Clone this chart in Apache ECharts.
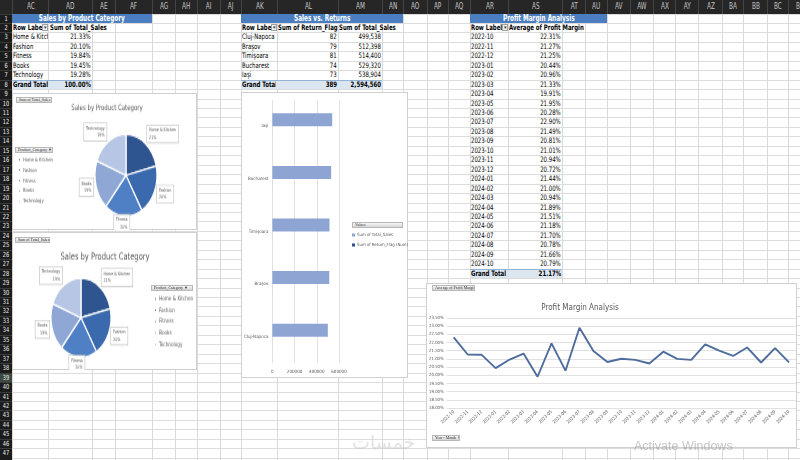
<!DOCTYPE html>
<html>
<head>
<meta charset="utf-8">
<script src="https://cdn.jsdelivr.net/npm/echarts@6/dist/echarts.min.js"></script>
<style>
  html, body { margin:0; padding:0; width:800px; height:460px; overflow:hidden; background:#fff; }
  #sheet { position:absolute; left:0; top:0; width:800px; height:460px; }
  .abs { position:absolute; box-sizing:border-box; }
  .cell { position:absolute; overflow:hidden; white-space:nowrap; box-sizing:border-box; color:#000; }
  .cell span { display:inline-block; }
  .box { position:absolute; background:#fff; border:1px solid #d0d0d0; box-sizing:border-box; }
  .btn { position:absolute; box-sizing:border-box; background:linear-gradient(#f6f6f6,#d4d4d4); border:1px solid #b8b8b8; font-size:4px; line-height:4px; color:#333; padding-left:2px; overflow:hidden; white-space:nowrap; }
  .chart { position:absolute; }
</style>
</head>
<body>
<div id="sheet"></div>
<script>
// ---------------- DATA ----------------
const categories = ['Home & Kitchen', 'Fashion', 'Fitness', 'Books', 'Technology'];
const categoryShare = [21.33, 20.10, 19.84, 19.45, 19.28];

const cities = ['Cluj-Napoca', 'Braşov', 'Timişoara', 'Bucharest', 'Iaşi'];
const returnFlags = [82, 79, 81, 74, 73];
const citySales = [499538, 512398, 514400, 529320, 538904];

const months = ['2022-10','2022-11','2022-12','2023-01','2023-02','2023-03','2023-04','2023-05','2023-06','2023-07','2023-08','2023-09','2023-10','2023-11','2023-12','2024-01','2024-02','2024-03','2024-04','2024-05','2024-06','2024-07','2024-08','2024-09','2024-10'];
const profitMargins = [22.31, 21.27, 21.25, 20.44, 20.96, 21.33, 19.91, 21.95, 20.28, 22.90, 21.49, 20.81, 21.01, 20.94, 20.72, 21.44, 21.00, 20.94, 21.89, 21.51, 21.18, 21.70, 20.78, 21.66, 20.79];
const profitGrandTotal = 21.17;

const colNames = ['AC','AD','AE','AF','AG','AH','AI','AJ','AK','AL','AM','AN','AO','AP','AQ','AR','AS','AT','AU','AV','AW','AX','AY','AZ','BA','BB','BC','BD'];
const rowCount = 47;

// ---------------- STYLE / LAYOUT ----------------
const NARROW = '"Liberation Sans Narrow","DejaVu Sans Condensed","Liberation Sans",sans-serif';
const colEdges = [12,48,92,115,152,175,197,220,241,277,338,382,403,427,448,470,508,562,585,607,630,653,675,698,722,743,767,788,812];
const ROW0 = 13.5, RH = 9.45;
const rowTop = r => ROW0 + (r - 1) * RH;
const sheet = document.getElementById('sheet');
const SX = 0.8; // horizontal condensing of sheet text

function el(cls, x, y, w, h, text, css, align) {
  const d = document.createElement('div');
  d.className = cls;
  d.style.left = x + 'px'; d.style.top = y + 'px';
  d.style.width = w + 'px'; d.style.height = h + 'px';
  if (css) Object.assign(d.style, css);
  if (text !== undefined && text !== null) {
    if (cls === 'cell') {
      const s = document.createElement('span');
      s.textContent = text;
      const a = align || 'left';
      s.style.transform = 'scaleX(' + SX + ')';
      s.style.transformOrigin = a === 'right' ? '100% 50%' : (a === 'center' ? '50% 50%' : '0 50%');
      d.appendChild(s);
    } else {
      d.textContent = text;
    }
  }
  sheet.appendChild(d);
  return d;
}

// grid lines
for (let i = 0; i < colEdges.length; i++) {
  el('abs', colEdges[i], 13, 1, 447, null, {background:'#d9d9d9', width:'1px'});
}
for (let r = 0; r <= rowCount; r++) {
  el('abs', 12, rowTop(r + 1), 788, 1, null, {background:'#dcdcdc', height:'1px'});
}
// column header
el('abs', 0, 0, 800, 13.5, null, {background:'#262626'});
for (let i = 0; i < colNames.length; i++) {
  const x0 = colEdges[i], x1 = colEdges[i + 1];
  el('cell', x0, 0, x1 - x0, 13.5, colNames[i], {color:'#c4c4c4', fontFamily:NARROW, fontSize:'8px', textAlign:'center', lineHeight:'13.5px', borderLeft:'1px solid #444'}, 'center');
}
// row header
el('abs', 0, 13.5, 12, 447, null, {background:'#1c1c1c'});
for (let r = 1; r <= rowCount; r++) {
  el('cell', 0, rowTop(r), 12, RH, String(r), {color:'#ececec', fontFamily:NARROW, fontSize:'7px', textAlign:'center', lineHeight:RH + 'px', borderTop:'1px solid #3a3a3a', background: r === 39 ? '#3d4a3f' : 'transparent'}, 'center');
}

// -------- pivot tables (text from the data arrays) --------
const FS = {fontFamily:NARROW, fontSize:'7.5px', lineHeight:RH + 'px'};
function tcell(x0, x1, r, text, align, bold, extra) {
  const css = Object.assign({}, FS, {textAlign:align || 'left', fontWeight: bold ? 'bold' : 'normal', paddingLeft:'1px', paddingRight:'1px'}, extra || {});
  return el('cell', x0, rowTop(r), x1 - x0, RH, text, css, align);
}
function titleBar(x0, x1, text) {
  el('cell', x0, rowTop(1), x1 - x0, RH, text, Object.assign({}, FS, {background:'#4a7ec0', color:'#fff', fontWeight:'bold', textAlign:'center', fontSize:'8px'}), 'center');
}
function dropBtn(x) {
  const d = el('abs', x, rowTop(2) + 1.5, 6, RH - 3, null, {background:'#f0f0f0', border:'1px solid #a0a0a0', fontSize:'5px', lineHeight:'5px', textAlign:'center', color:'#333', overflow:'hidden'});
  d.textContent = '▾';
}
const fmtPct = v => v.toFixed(2) + '%';
const fmtInt = v => v.toLocaleString('en-US');

// table 1
titleBar(12, 152, 'Sales by Product Category');
tcell(12, 42, 2, 'Row Labels', 'left', true);
dropBtn(42);
tcell(49, 152, 2, 'Sum of Total_Sales', 'left', true);
categories.forEach((c, i) => {
  tcell(12, 48, 3 + i, c, 'left', false);
  tcell(48, 92, 3 + i, fmtPct(categoryShare[i]), 'right', false);
});
const shareTotal = categoryShare.reduce((a, b) => a + b, 0);
el('abs', 12, rowTop(8), 80, RH, null, {background:'#dce6f1', borderTop:'1px solid #95b3d7'});
tcell(12, 52, 8, 'Grand Total', 'left', true);
tcell(48, 92, 8, fmtPct(shareTotal), 'right', true);

// table 2
titleBar(241, 403, 'Sales vs. Returns');
tcell(241, 271, 2, 'Row Labels', 'left', true);
dropBtn(271);
tcell(277, 338, 2, 'Sum of Return_Flag (Num)', 'left', true);
tcell(338, 403, 2, 'Sum of Total_Sales', 'left', true);
cities.forEach((c, i) => {
  tcell(241, 277, 3 + i, c, 'left', false);
  tcell(277, 338, 3 + i, String(returnFlags[i]), 'right', false);
  tcell(338, 382, 3 + i, fmtInt(citySales[i]), 'right', false);
});
el('abs', 241, rowTop(8), 141, RH, null, {background:'#dce6f1', borderTop:'1px solid #95b3d7'});
tcell(241, 276, 8, 'Grand Total', 'left', true);
tcell(277, 338, 8, String(returnFlags.reduce((a, b) => a + b, 0)), 'right', true);
tcell(338, 382, 8, fmtInt(citySales.reduce((a, b) => a + b, 0)), 'right', true);

// table 3
titleBar(470, 607, 'Profit Margin Analysis');
tcell(470, 502, 2, 'Row Labels', 'left', true);
dropBtn(502);
tcell(508, 607, 2, 'Average of Profit Margin', 'left', true);
months.forEach((m, i) => {
  tcell(470, 508, 3 + i, m, 'left', false);
  tcell(508, 562, 3 + i, fmtPct(profitMargins[i]), 'right', false);
});
const gtRow = 3 + months.length;
el('abs', 470, rowTop(gtRow), 92, RH, null, {background:'#dce6f1', borderTop:'1px solid #95b3d7'});
tcell(470, 506, gtRow, 'Grand Total', 'left', true);
tcell(508, 562, gtRow, fmtPct(profitGrandTotal), 'right', true);

// chart boxes
el('box', 12, 93, 185, 137);
el('box', 12, 232, 185, 138);
el('box', 241, 92, 167, 286);
el('box', 426, 283, 371, 165);

// chart containers
function chartDiv(x, y, w, h, sy) {
  const d = el('chart', x, y, w, h);
  if (sy) { d.style.transformOrigin = '0 0'; d.style.transform = 'scaleY(' + sy + ')'; }
  return d;
}

const pieColors = ['#2f5591', '#3a69ae', '#4f80c6', '#8ea7d5', '#b7c6e4'];
const GREY = '#595959';

// mid-angles of the slices (radians), used to place callout labels like Excel
const shareSum = categoryShare.reduce((a, b) => a + b, 0);
const midAngles = (() => { let acc = 0; return categoryShare.map(v => { const a0 = 90 - acc / shareSum * 360; acc += v; const a1 = 90 - acc / shareSum * 360; return (a0 + a1) / 2 * Math.PI / 180; }); })();

function pieOption(o) {
  return {
    animation: false,
    color: pieColors,
    title: {
      text: 'Sales by Product Category', left: o.tx, top: o.ty, textAlign: 'center',
      textStyle: {fontFamily: NARROW, fontSize: o.ts, fontWeight: 'normal', color: GREY}
    },
    legend: {
      orient: 'vertical', left: o.lx, top: o.ly, padding: 0, icon: 'rect', itemWidth: o.li, itemHeight: o.li,
      itemGap: o.lg, data: categories,
      textStyle: {fontFamily: NARROW, fontSize: o.lf, color: GREY, padding: [0, 0, 0, -3]}
    },
    series: [{
      type: 'pie', center: o.c, radius: o.r, startAngle: 90, clockwise: true,
      data: categories.map((c, i) => ({name: c, value: categoryShare[i]})),
      itemStyle: {borderColor: '#fff', borderWidth: 1.2},
      label: {
        show: true, position: 'outside',
        formatter: p => p.name + '\n' + Math.round(p.percent) + '%',
        fontFamily: NARROW, fontSize: o.pf, lineHeight: o.pf + 1.6, color: GREY,
        backgroundColor: '#fff', borderColor: '#bfbfbf', borderWidth: 0.6, padding: [1.2, 2]
      },
      labelLine: {show: false, length: 3, length2: 0},
      labelLayout: p => {
        const a = midAngles[p.dataIndex];
        const ux = Math.cos(a), uy = -Math.sin(a);
        const r = p.labelRect;
        const R = o.r + 2;
        const cx = o.c[0] + ux * R + Math.sign(ux) * Math.min(1, 2 * Math.abs(ux)) * r.width / 2;
        const cy = o.c[1] + uy * R + uy * r.height / 2 * (uy > 0 ? 0.5 : 1);
        return {dx: cx - (r.x + r.width / 2), dy: cy - (r.y + r.height / 2)};
      }
    }]
  };
}

const pie1 = echarts.init(chartDiv(12, 93, 185, 104, 137 / 104), null, {renderer: 'canvas'});
pie1.setOption(pieOption({tx: 90, ty: 3, ts: 6, lx: 5, ly: 48.2, li: 3, lg: 2.9, lf: 4.1, c: [114, 62.5], r: 31, pf: 3.7}));

const pie2 = echarts.init(chartDiv(12, 232, 185, 105, 138 / 105), null, {renderer: 'canvas'});
pie2.setOption(pieOption({tx: 88, ty: 10, ts: 7.5, lx: 141, ly: 48.5, li: 3, lg: 3.6, lf: 4.7, c: [69, 65.2], r: 30, pf: 3.7}));

// bar chart
const bar = echarts.init(chartDiv(241, 92, 167, 286), null, {renderer: 'canvas'});
bar.setOption({
  animation: false,
  grid: {left: 28, right: 69, top: 8, bottom: 15},
  legend: {
    orient: 'vertical', left: 111, top: 141, padding: 0, icon: 'rect', itemWidth: 3, itemHeight: 3, itemGap: 6,
    data: ['Sum of Total_Sales', 'Sum of Return_Flag (Num)'],
    textStyle: {fontFamily: NARROW, fontSize: 4.3, color: GREY, padding: [0, 0, 0, -3]}
  },
  xAxis: {
    type: 'value', min: 0, max: 600000, interval: 200000,
    axisLine: {show: false}, axisTick: {show: false},
    axisLabel: {fontFamily: NARROW, fontSize: 4.5, color: GREY, margin: 6, formatter: v => String(v)},
    splitLine: {lineStyle: {color: '#d9d9d9', width: 0.8}}
  },
  yAxis: {
    type: 'category', data: cities,
    axisLine: {show: false}, axisTick: {show: false},
    axisLabel: {fontFamily: NARROW, fontSize: 4.5, color: GREY, margin: 4}
  },
  series: [
    {name: 'Sum of Total_Sales', type: 'bar', data: citySales, barWidth: 13, barGap: '0%', itemStyle: {color: '#8ea5d3'}},
    {name: 'Sum of Return_Flag (Num)', type: 'bar', data: returnFlags, barWidth: 13, barGap: '0%', itemStyle: {color: '#2f4f8a'}}
  ]
});

// line chart
const line = echarts.init(chartDiv(426, 283, 371, 165), null, {renderer: 'canvas'});
line.setOption({
  animation: false,
  title: {
    text: 'Profit Margin Analysis', left: 149, top: 16, textAlign: 'center',
    textStyle: {fontFamily: NARROW, fontSize: 8, fontWeight: 'normal', color: GREY}
  },
  grid: {left: 19, right: 1, top: 35, bottom: 40},
  xAxis: {
    type: 'category', data: months, boundaryGap: true,
    axisLine: {show: false}, axisTick: {show: false},
    axisLabel: {rotate: 45, interval: 0, fontFamily: NARROW, fontSize: 4.5, color: GREY, margin: 3}
  },
  yAxis: {
    type: 'value', min: 18, max: 23.5, interval: 0.5,
    axisLine: {show: false}, axisTick: {show: false},
    axisLabel: {formatter: v => v.toFixed(2) + '%', fontFamily: NARROW, fontSize: 4.3, color: GREY, margin: 3},
    splitLine: {lineStyle: {color: '#d9d9d9', width: 0.8}}
  },
  series: [{
    name: 'Average of Profit Margin', type: 'line', data: profitMargins, symbol: 'none',
    lineStyle: {color: '#4e6d9c', width: 1.9}
  }]
});

// pivot chart field buttons
el('btn', 16, 97, 36, 6, 'Sum of Total_Sales');
el('btn', 15, 147, 38, 6, 'Product_Category  ▼');
el('btn', 15, 237, 35, 6, 'Sum of Total_Sales');
el('btn', 151, 285, 42, 6, 'Product_Category  ▼');
el('btn', 352, 222, 51, 6, 'Values');
el('btn', 432, 285, 43, 5.5, 'Average of Profit Margin');
el('btn', 432, 435, 28, 6, 'Year - Month ▼');

// watermarks
const wm = el('abs', 634, 438, 110, 16, null, {fontFamily:'"Liberation Sans",sans-serif', fontSize:'12.5px', color:'rgba(140,140,140,0.5)', lineHeight:'16px', whiteSpace:'nowrap'});
wm.textContent = 'Activate Windows';
const wm2 = el('abs', 352, 430, 75, 24, null, {fontFamily:'"DejaVu Sans",sans-serif', fontSize:'19px', color:'rgba(200,200,200,0.5)', lineHeight:'24px', whiteSpace:'nowrap'});
wm2.textContent = 'خمسات';
</script>
</body>
</html>
